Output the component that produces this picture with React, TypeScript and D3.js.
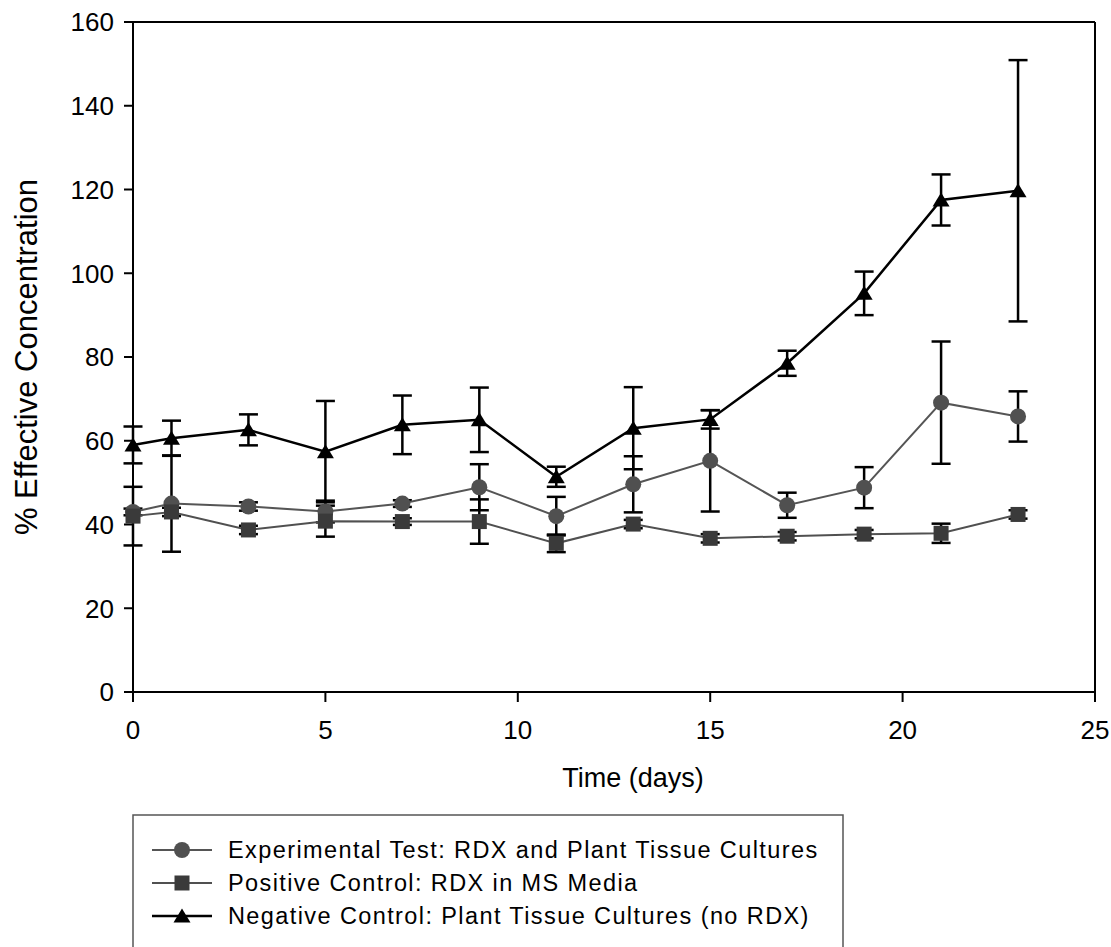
import React from "react";
import * as d3 from "d3";

const days = [0, 1, 3, 5, 7, 9, 11, 13, 15, 17, 19, 21, 23];
const expMean = [43, 45, 44.3, 43.1, 45.0, 48.9, 42.0, 49.6, 55.2, 44.6, 48.8, 69.1, 65.8];
const expErr = [0.8, 11.5, 1.0, 2.6, 0.8, 5.5, 4.6, 6.7, 12.1, 3.0, 4.9, 14.6, 6.0];
const posMean = [42, 43, 38.7, 40.8, 40.7, 40.7, 35.5, 40.1, 36.7, 37.2, 37.7, 37.9, 42.4];
const posErr = [7.0, 1.0, 1.0, 3.7, 0.8, 5.3, 2.1, 1.0, 1.0, 1.0, 1.0, 2.3, 1.0];
const negMean = [59.0, 60.6, 62.6, 57.4, 63.8, 65.0, 51.4, 63.0, 65.1, 78.5, 95.2, 117.5, 119.7];
const negErr = [4.4, 4.2, 3.7, 12.1, 7.0, 7.7, 2.4, 9.8, 2.2, 3.0, 5.2, 6.1, 31.2];

const xTicks = [0, 5, 10, 15, 20, 25];
const yTicks = [0, 20, 40, 60, 80, 100, 120, 140, 160];

const seriesNames = [
  "Experimental Test: RDX and Plant Tissue Cultures",
  "Positive Control: RDX in MS Media",
  "Negative Control: Plant Tissue Cultures (no RDX)",
];
const xTitle = "Time (days)";
const yTitle = "% Effective Concentration";

const W = 1111;
const H = 947;
const FONT = "'Liberation Sans', Arial, sans-serif";

type Shape = "circle" | "square" | "triangle";
const series = [
  { name: seriesNames[0], mean: expMean, err: expErr, shape: "circle" as Shape, fill: "#505050", line: "#555555", lw: 2 },
  { name: seriesNames[1], mean: posMean, err: posErr, shape: "square" as Shape, fill: "#3a3a3a", line: "#505050", lw: 2 },
  { name: seriesNames[2], mean: negMean, err: negErr, shape: "triangle" as Shape, fill: "#000000", line: "#000000", lw: 2.5 },
];

function Marker({ shape, x, y, fill }: { shape: Shape; x: number; y: number; fill: string }) {
  if (shape === "circle") return <circle cx={x} cy={y} r={8} fill={fill} />;
  if (shape === "square") return <rect x={x - 7.5} y={y - 7.5} width={15} height={15} fill={fill} />;
  return <path d={`M${x},${y - 7.5}L${x + 8.5},${y + 6.5}L${x - 8.5},${y + 6.5}Z`} fill={fill} />;
}

export default function App() {
  const x = d3.scaleLinear().domain([0, 25]).range([133, 1095]);
  const y = d3.scaleLinear().domain([0, 160]).range([692, 22]);

  const lineGen = (m: number[]) =>
    d3
      .line<number>()
      .x((_, i) => x(days[i]))
      .y((v) => y(v))(m) || "";

  const legendRows = [850, 883, 916];

  return (
    <svg
      width={W}
      height={H}
      style={{ position: "absolute", left: 0, top: 0, background: "#fff" }}
      fontFamily={FONT}
    >
      <rect x={0} y={0} width={W} height={H} fill="#fff" />
      {/* frame */}
      <line x1={x(0)} x2={x(25)} y1={y(160)} y2={y(160)} stroke="#000" strokeWidth={2} />
      <line x1={x(25)} x2={x(25)} y1={y(160)} y2={y(0)} stroke="#000" strokeWidth={2} />
      {/* axes */}
      <line x1={x(0) - 9} x2={x(25)} y1={y(0)} y2={y(0)} stroke="#000" strokeWidth={2} />
      <line x1={x(0)} x2={x(0)} y1={y(160)} y2={y(0) + 10} stroke="#000" strokeWidth={2} />
      {yTicks.map((t) => (
        <g key={"y" + t}>
          <line x1={x(0) - 9} x2={x(0)} y1={y(t)} y2={y(t)} stroke="#000" strokeWidth={2} />
          <text x={x(0) - 19} y={y(t)} dy="0.36em" textAnchor="end" fontSize={26} fill="#000">
            {t}
          </text>
        </g>
      ))}
      {xTicks.map((t) => (
        <g key={"x" + t}>
          <line x1={x(t)} x2={x(t)} y1={y(0)} y2={y(0) + 10} stroke="#000" strokeWidth={2} />
          <text x={x(t)} y={y(0) + 47} textAnchor="middle" fontSize={26} fill="#000">
            {t}
          </text>
        </g>
      ))}
      <text x={633} y={787} textAnchor="middle" fontSize={27} fill="#000">
        {xTitle}
      </text>
      <text
        transform={`translate(37,357) rotate(-90)`}
        textAnchor="middle"
        fontSize={31}
        fill="#000"
      >
        {yTitle}
      </text>

      {/* error bars */}
      {series.map((s, si) => (
        <g key={"e" + si}>
          {s.mean.map((m, i) => {
            const cx = x(days[i]);
            const hi = y(m + s.err[i]);
            const lo = y(m - s.err[i]);
            return (
              <g key={i}>
                <line x1={cx} x2={cx} y1={hi} y2={lo} stroke="#000" strokeWidth={2.5} />
                <line x1={cx - 9.5} x2={cx + 9.5} y1={hi} y2={hi} stroke="#000" strokeWidth={2.5} />
                <line x1={cx - 9.5} x2={cx + 9.5} y1={lo} y2={lo} stroke="#000" strokeWidth={2.5} />
              </g>
            );
          })}
        </g>
      ))}

      {/* lines + markers */}
      {series.map((s, si) => (
        <g key={"s" + si}>
          <path d={lineGen(s.mean)} fill="none" stroke={s.line} strokeWidth={s.lw} />
          {s.mean.map((m, i) => (
            <Marker key={i} shape={s.shape} x={x(days[i])} y={y(m)} fill={s.fill} />
          ))}
        </g>
      ))}

      {/* legend */}
      <rect x={133} y={815} width={710} height={160} fill="none" stroke="#555" strokeWidth={1.5} />
      {series.map((s, si) => (
        <g key={"l" + si}>
          <line x1={152} x2={212} y1={legendRows[si]} y2={legendRows[si]} stroke={s.line} strokeWidth={s.lw} />
          <Marker shape={s.shape} x={182} y={legendRows[si]} fill={s.fill} />
          <text x={228} y={legendRows[si]} dy="0.36em" fontSize={23.5} letterSpacing={1.4} fill="#000">
            {s.name}
          </text>
        </g>
      ))}
    </svg>
  );
}
